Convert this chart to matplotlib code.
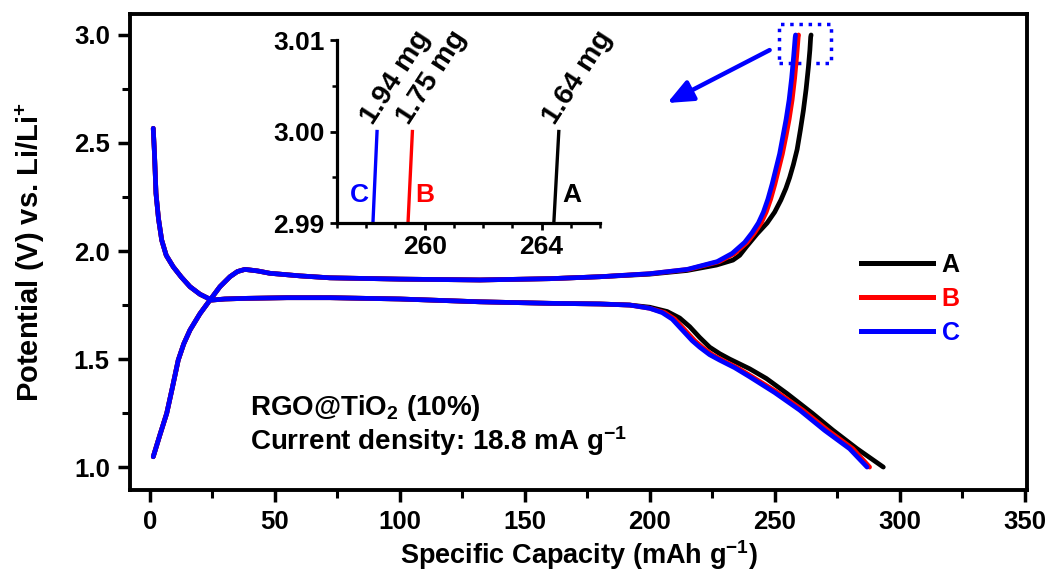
import matplotlib
matplotlib.use("Agg")
import matplotlib.pyplot as plt
from matplotlib.ticker import MultipleLocator, FormatStrFormatter
from matplotlib.patches import Rectangle
from matplotlib.lines import Line2D

plt.rcParams['font.family'] = ['Liberation Sans', 'DejaVu Sans']
plt.rcParams['font.weight'] = 'bold'
plt.rcParams['mathtext.fontset'] = 'custom'
plt.rcParams['mathtext.rm'] = 'Liberation Sans:bold'
plt.rcParams['mathtext.bf'] = 'Liberation Sans:bold'
plt.rcParams['mathtext.it'] = 'Liberation Sans:bold'

# discharge curves (capacity, potential)
disch_A_cap = [1.3, 1.8, 2.4, 3.4, 4.7, 6.5, 9.3, 12.5, 16, 20, 24.7, 30, 38.7, 55, 72, 100, 132, 160, 180, 192,
               200, 207, 212, 216, 220, 224, 228, 232, 240, 246.7, 255, 265, 273.3, 283, 293.5]
disch_A_v = [2.568, 2.45, 2.267, 2.15, 2.05, 1.98, 1.927, 1.88, 1.835, 1.80, 1.773, 1.778, 1.781, 1.784, 1.784,
             1.778, 1.765, 1.758, 1.755, 1.75, 1.74, 1.72, 1.69, 1.65, 1.60, 1.555, 1.525, 1.50, 1.455, 1.41,
             1.34, 1.25, 1.171, 1.085, 1.0]
disch_B_cap = [1.3, 1.8, 2.4, 3.4, 4.7, 6.5, 9.3, 12.5, 16, 20, 24.7, 30, 38.7, 55, 72, 100, 132, 160, 180, 192,
               200, 206, 210, 214, 218, 221, 225, 229, 235, 241, 251.2, 261.2, 271.3, 281.3, 288]
disch_B_v = [2.568, 2.45, 2.267, 2.15, 2.05, 1.98, 1.927, 1.88, 1.835, 1.80, 1.773, 1.778, 1.781, 1.784, 1.784,
             1.778, 1.765, 1.758, 1.755, 1.75, 1.735, 1.715, 1.685, 1.635, 1.585, 1.555, 1.52, 1.495, 1.46, 1.418,
             1.345, 1.264, 1.17, 1.085, 1.0]
disch_C_cap = [1.3, 1.8, 2.4, 3.4, 4.7, 6.5, 9.3, 12.5, 16, 20, 24.7, 30, 38.7, 55, 72, 100, 132, 160, 180, 192,
               200, 205, 209, 213, 217, 220, 224, 228, 234, 240, 250, 260, 270, 280, 287]
disch_C_v = [2.568, 2.45, 2.267, 2.15, 2.05, 1.98, 1.927, 1.88, 1.835, 1.80, 1.773, 1.778, 1.781, 1.784, 1.784,
             1.778, 1.765, 1.758, 1.755, 1.75, 1.735, 1.715, 1.685, 1.635, 1.585, 1.555, 1.52, 1.495, 1.46, 1.418,
             1.345, 1.264, 1.17, 1.085, 1.0]

# charge curves
charge_A_cap = [1.3, 4, 6.7, 9, 11.3, 13.5, 16, 20, 24, 28, 32, 35, 38, 43, 48, 60, 72, 100, 132, 160, 180, 200,
                215, 226.7, 233.3, 236, 238.7, 243, 247, 250, 252.5, 254.5, 256, 257.5, 259, 260.3, 261.5, 262.6,
                263.5, 264.1, 264.42, 264.59]
charge_A_v = [1.048, 1.15, 1.249, 1.37, 1.495, 1.57, 1.634, 1.71, 1.773, 1.835, 1.881, 1.905, 1.915, 1.908, 1.897,
              1.885, 1.876, 1.870, 1.866, 1.872, 1.881, 1.893, 1.91, 1.935, 1.958, 1.98, 2.02, 2.08, 2.13, 2.18,
              2.236, 2.29, 2.34, 2.40, 2.47, 2.56, 2.65, 2.75, 2.85, 2.93, 2.99, 3.0]
charge_B_cap = [1.3, 4, 6.7, 9, 11.3, 13.5, 16, 20, 24, 28, 32, 35, 38, 43, 48, 60, 72, 100, 132, 160, 180, 200,
                215.5, 227.8, 234, 239, 242, 244.6, 246.6, 248.4, 250.1, 251.6, 253.1, 254.5, 255.8, 257.0, 258.0,
                258.8, 259.43, 259.58]
charge_B_v = [1.048, 1.15, 1.249, 1.37, 1.495, 1.57, 1.634, 1.71, 1.773, 1.835, 1.881, 1.905, 1.915, 1.908, 1.897,
              1.885, 1.876, 1.870, 1.866, 1.872, 1.881, 1.895, 1.915, 1.951, 1.989, 2.04, 2.085, 2.13, 2.18, 2.24,
              2.31, 2.38, 2.45, 2.53, 2.61, 2.70, 2.80, 2.90, 2.99, 3.0]
charge_C_cap = [1.3, 4, 6.7, 9, 11.3, 13.5, 16, 20, 24, 28, 32, 35, 38, 43, 48, 60, 72, 100, 132, 160, 180, 200,
                215, 227, 233, 238, 241, 243.5, 245.5, 247.3, 249, 250.5, 252, 253.3, 254.6, 255.8, 256.8, 257.6,
                258.23, 258.37]
charge_C_v = [1.048, 1.15, 1.249, 1.37, 1.495, 1.57, 1.634, 1.71, 1.773, 1.835, 1.881, 1.905, 1.915, 1.908, 1.897,
              1.885, 1.876, 1.870, 1.866, 1.872, 1.881, 1.895, 1.915, 1.951, 1.989, 2.04, 2.085, 2.13, 2.18, 2.24,
              2.31, 2.38, 2.45, 2.53, 2.61, 2.70, 2.80, 2.90, 2.99, 3.0]

labels = ['A', 'B', 'C']
colors = ['black', '#ff0000', '#0000ff']
masses = ['1.64 mg', '1.75 mg', '1.94 mg']

series = [
    (disch_A_cap, disch_A_v, charge_A_cap, charge_A_v),
    (disch_B_cap, disch_B_v, charge_B_cap, charge_B_v),
    (disch_C_cap, disch_C_v, charge_C_cap, charge_C_v),
]

W, H = 1056, 578
fig = plt.figure(figsize=(W / 100, H / 100), dpi=100)
ax = fig.add_axes([130 / W, 1 - 490 / H, 897 / W, 476 / H])

for (dc, dv, cc, cv), col in zip(series, colors):
    ax.plot(dc, dv, color=col, lw=3.4, solid_capstyle='round', solid_joinstyle='round')
    ax.plot(cc, cv, color=col, lw=3.4, solid_capstyle='round', solid_joinstyle='round')

ax.set_xlim(-8, 351)
ax.set_ylim(0.894, 3.097)
ax.xaxis.set_major_locator(MultipleLocator(50))
ax.xaxis.set_minor_locator(MultipleLocator(25))
ax.yaxis.set_major_locator(MultipleLocator(0.5))
ax.yaxis.set_minor_locator(MultipleLocator(0.25))
ax.yaxis.set_major_formatter(FormatStrFormatter('%.1f'))
ax.tick_params(which='major', direction='out', length=8.5, width=2.5, pad=6)
ax.tick_params(which='minor', direction='out', length=6, width=2.2)
ax.tick_params(axis='y', labelsize=18.5)
ax.tick_params(axis='x', labelsize=18.5)
for sp in ax.spines.values():
    sp.set_linewidth(2.8)

ax.set_xlabel(r'Specific Capacity (mAh g$^{-1}$)', fontsize=19.5, fontweight='bold', labelpad=3)
ax.set_ylabel(r'Potential (V) vs. Li/Li$^{+}$', fontsize=21, fontweight='bold')
ax.yaxis.set_label_coords(-0.093, 0.5)

ax.text(40, 1.241, r'RGO@TiO$_2$ (10%)', fontsize=20, fontweight='bold', va='baseline')
ax.text(40, 1.079, r'Current density: 18.8 mA g$^{-1}$', fontsize=20, fontweight='bold', va='baseline')

# dotted zoom box and arrow
ax.add_patch(Rectangle((251.6, 2.870), 20.8, 0.181, fill=False, ls=':', lw=2.5, edgecolor='#0000ff'))
ax.annotate('', xy=(207, 2.685), xytext=(248, 2.93),
            arrowprops=dict(arrowstyle='-|>,head_length=0.7,head_width=0.3', color='#0000ff', lw=3.2,
                            mutation_scale=22, shrinkA=0, shrinkB=0))

# legend
handles = [Line2D([], [], color=c, lw=3.6) for c in colors]
ax.legend(handles, labels, loc='center left', bbox_to_anchor=(848 / W, 1 - 299 / H),
          bbox_transform=fig.transFigure, frameon=False, handlelength=2.9, handletextpad=0.35,
          labelspacing=0.4, borderpad=0, prop={'size': 18, 'weight': 'bold'}, labelcolor='linecolor')

# inset
axin = fig.add_axes([337 / W, 1 - 223 / H, 263 / W, 183 / H])
for (dc, dv, cc, cv), col in zip(series, colors):
    axin.plot(cc, cv, color=col, lw=2.4)
axin.set_xlim(257, 266)
axin.set_ylim(2.99, 3.01)
axin.spines['top'].set_visible(False)
axin.spines['right'].set_visible(False)
for sp in axin.spines.values():
    sp.set_linewidth(2.3)
axin.xaxis.set_major_locator(MultipleLocator(4))
axin.xaxis.set_minor_locator(MultipleLocator(1))
axin.yaxis.set_major_locator(MultipleLocator(0.01))
axin.yaxis.set_minor_locator(MultipleLocator(0.005))
axin.yaxis.set_major_formatter(FormatStrFormatter('%.2f'))
axin.xaxis.set_major_formatter(FormatStrFormatter('%d'))
axin.tick_params(which='major', direction='out', length=5, width=2, pad=4, labelsize=19)
axin.tick_params(which='minor', direction='out', length=3.5, width=1.8)
axin.patch.set_alpha(0)

for (dc, dv, cc, cv), col, lab, m in zip(series, colors, labels, masses):
    axin.annotate(m, xy=(cc[-1], cv[-1]), xytext=(1, 2), textcoords='offset points', fontsize=20.5,
                  fontweight='bold', rotation=57, rotation_mode='anchor', ha='left', va='bottom',
                  annotation_clip=False)

axin.text(257.77, 2.9931, 'C', color='#0000ff', fontsize=19, fontweight='bold', ha='center', va='center')
axin.text(260.0, 2.9931, 'B', color='#ff0000', fontsize=19, fontweight='bold', ha='center', va='center')
axin.text(265.03, 2.9931, 'A', color='black', fontsize=19, fontweight='bold', ha='center', va='center')

fig.savefig('out.png', dpi=100)
